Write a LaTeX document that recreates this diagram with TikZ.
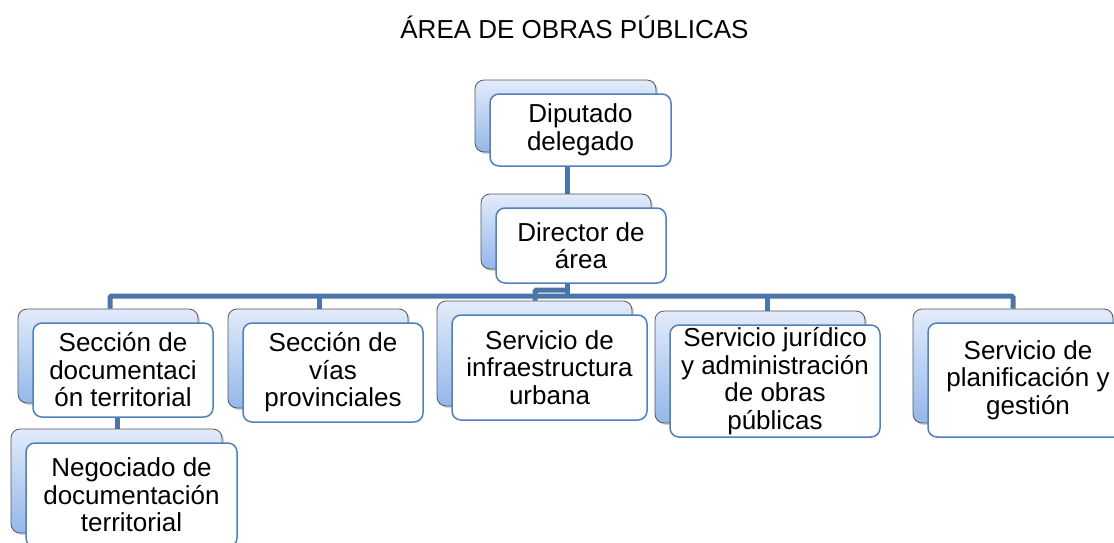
\documentclass[tikz,border=0pt]{standalone}
\usepackage{fontspec}
\setmainfont{Liberation Sans}
\usetikzlibrary{shadows,backgrounds,calc}
\definecolor{connc}{RGB}{74,116,170}
\definecolor{frontb}{RGB}{79,129,189}
\definecolor{backtop}{RGB}{226,235,250}
\definecolor{backbot}{RGB}{148,183,234}
\definecolor{backedge}{RGB}{85,85,85}
\tikzset{
 frontbox/.style={draw=frontb, fill=white, line width=1.5pt, rounded corners=9pt, align=center, inner sep=0pt, font=\fontsize{26}{27.5}\selectfont},
 backbox/.style={draw=backedge, line width=0.8pt, rounded corners=9pt, top color=backtop, bottom color=backbot, drop shadow={opacity=0.35, shadow xshift=2pt, shadow yshift=-2pt}, inner sep=0pt},
 connline/.style={draw=connc, line width=5pt, rounded corners=1.5pt},
 titlestyle/.style={font=\fontsize{26}{30}\selectfont, anchor=base}
}
\newcommand\obox[6]{%
 \node[backbox, minimum width=#4pt, minimum height=#5pt] (#1b) at (#2-15,#3-14) {};
 \node[frontbox, minimum width=#4pt, minimum height=#5pt] (#1) at (#2,#3) {#6};}
\begin{document}
\begin{tikzpicture}[x=1pt,y=-1pt]
\path[use as bounding box, clip] (0,0) rectangle (1114,542);
\node[titlestyle] (title) at (574.5,38) {ÁREA DE OBRAS PÚBLICAS};
\obox{dip}{580.5}{130}{181}{72}{Diputado\\delegado}
\obox{dir}{581}{245.5}{170}{75}{Director de\\área}
\obox{s1}{123}{370}{180}{94}{Sección de\\documentaci\\ón territorial}
\obox{s2}{333}{372.5}{180}{99}{Sección de\\vías\\provinciales}
\obox{s3}{549.5}{367.5}{195}{105}{Servicio de\\infraestructura\\urbana}
\obox{s4}{775}{381}{210}{112}{Servicio jurídico\\y administración\\de obras\\públicas}
\obox{s5}{1028}{380}{200}{114}{Servicio de\\planificación y\\gestión}
\obox{n}{131.5}{495}{211}{104}{Negociado de\\documentación\\territorial}
\coordinate (trunk) at (567,0);
\coordinate (bar) at (0,296);
\coordinate (loop) at (0,290);
\coordinate (c1) at (110,0);
\coordinate (c2) at (319,0);
\coordinate (c3) at (535,0);
\coordinate (c4) at (767,0);
\coordinate (c5) at (1013,0);
\coordinate (c6) at (117,0);
\begin{pgfonlayer}{background}
\draw[connline] (dip.south -| trunk) -- (dirb.north -| trunk);
\draw[connline] (dir.south -| trunk) -- (bar -| trunk);
\draw[connline] (loop -| trunk) -| (s3b.north -| c3);
\draw[connline] (s1b.north -| c1) |- (bar -| c5) -- (s5b.north -| c5);
\draw[connline] (bar -| c2) -- (s2b.north -| c2);
\draw[connline] (bar -| c4) -- (s4b.north -| c4);
\draw[connline] (s1.south -| c6) -- (nb.north -| c6);
\end{pgfonlayer}
\end{tikzpicture}
\end{document}
